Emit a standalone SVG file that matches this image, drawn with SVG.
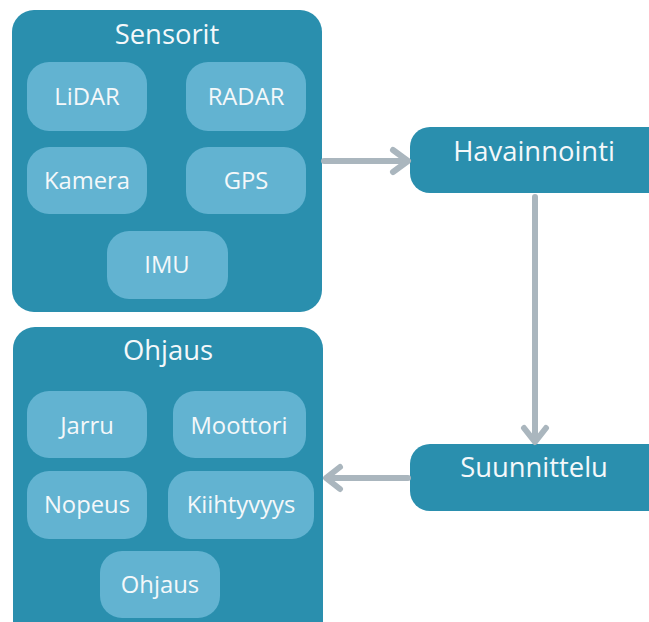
<svg xmlns="http://www.w3.org/2000/svg" width="649" height="622" viewBox="0 0 649 622">
<defs>
<style>
.cluster{fill:#2a8fae;}
.node{fill:#62b3d1;}
.main{fill:#2a8fae;}
.t{font-family:"Open Sans","Noto Sans",sans-serif;fill:#f4f8fa;text-anchor:middle;}
.title{font-size:27.4px;}
.lbl{font-size:23.8px;}
.edge{fill:none;stroke:#aab6be;stroke-width:6;stroke-linecap:round;stroke-linejoin:round;}
</style>
</defs>
<rect width="649" height="622" fill="#ffffff"/>
<g id="sensorit">
<rect class="cluster" x="12" y="10" width="310" height="302" rx="22"/>
<text class="t title" x="167" y="44">Sensorit</text>
</g>
<g id="lidar"><rect class="node" x="27" y="62" width="120" height="69" rx="22"/><text class="t lbl" x="87" y="105">LiDAR</text></g>
<g id="radar"><rect class="node" x="186" y="62" width="120" height="69" rx="22"/><text class="t lbl" x="246" y="105">RADAR</text></g>
<g id="kamera"><rect class="node" x="27" y="147" width="120" height="67" rx="22"/><text class="t lbl" x="87" y="189">Kamera</text></g>
<g id="gps"><rect class="node" x="186" y="147" width="120" height="67" rx="22"/><text class="t lbl" x="246" y="189">GPS</text></g>
<g id="imu"><rect class="node" x="107" y="231" width="121" height="68" rx="22"/><text class="t lbl" x="167" y="273">IMU</text></g>

<g id="ohjaus-cluster">
<rect class="cluster" x="13" y="327" width="310" height="320" rx="22"/>
<text class="t title" x="168" y="360">Ohjaus</text>
</g>
<g id="jarru"><rect class="node" x="27" y="391" width="120" height="67" rx="22"/><text class="t lbl" x="87" y="434">Jarru</text></g>
<g id="moottori"><rect class="node" x="173" y="391" width="133" height="67" rx="22"/><text class="t lbl" x="239" y="434">Moottori</text></g>
<g id="nopeus"><rect class="node" x="27" y="471" width="120" height="68" rx="22"/><text class="t lbl" x="87" y="513">Nopeus</text></g>
<g id="kiihtyvyys"><rect class="node" x="168" y="471" width="146" height="68" rx="22"/><text class="t lbl" x="241" y="513">Kiihtyvyys</text></g>
<g id="ohjaus"><rect class="node" x="100" y="551" width="120" height="67" rx="22"/><text class="t lbl" x="160" y="593">Ohjaus</text></g>

<g id="havainnointi"><rect class="main" x="410" y="127" width="260" height="66" rx="20"/><text class="t title" x="534" y="161">Havainnointi</text></g>
<g id="suunnittelu"><rect class="main" x="410" y="444" width="260" height="67" rx="20"/><text class="t title" x="534" y="477">Suunnittelu</text></g>

<g id="connectors">
<path class="edge" d="M324 161 H407"/>
<path class="edge" d="M393 150 L408 161 L393 172"/>
<path class="edge" d="M535 197 V441"/>
<path class="edge" d="M524 428 L535 442 L546 428"/>
<path class="edge" d="M408 478 H327"/>
<path class="edge" d="M340 467 L326 478 L340 489"/>
</g>
</svg>
